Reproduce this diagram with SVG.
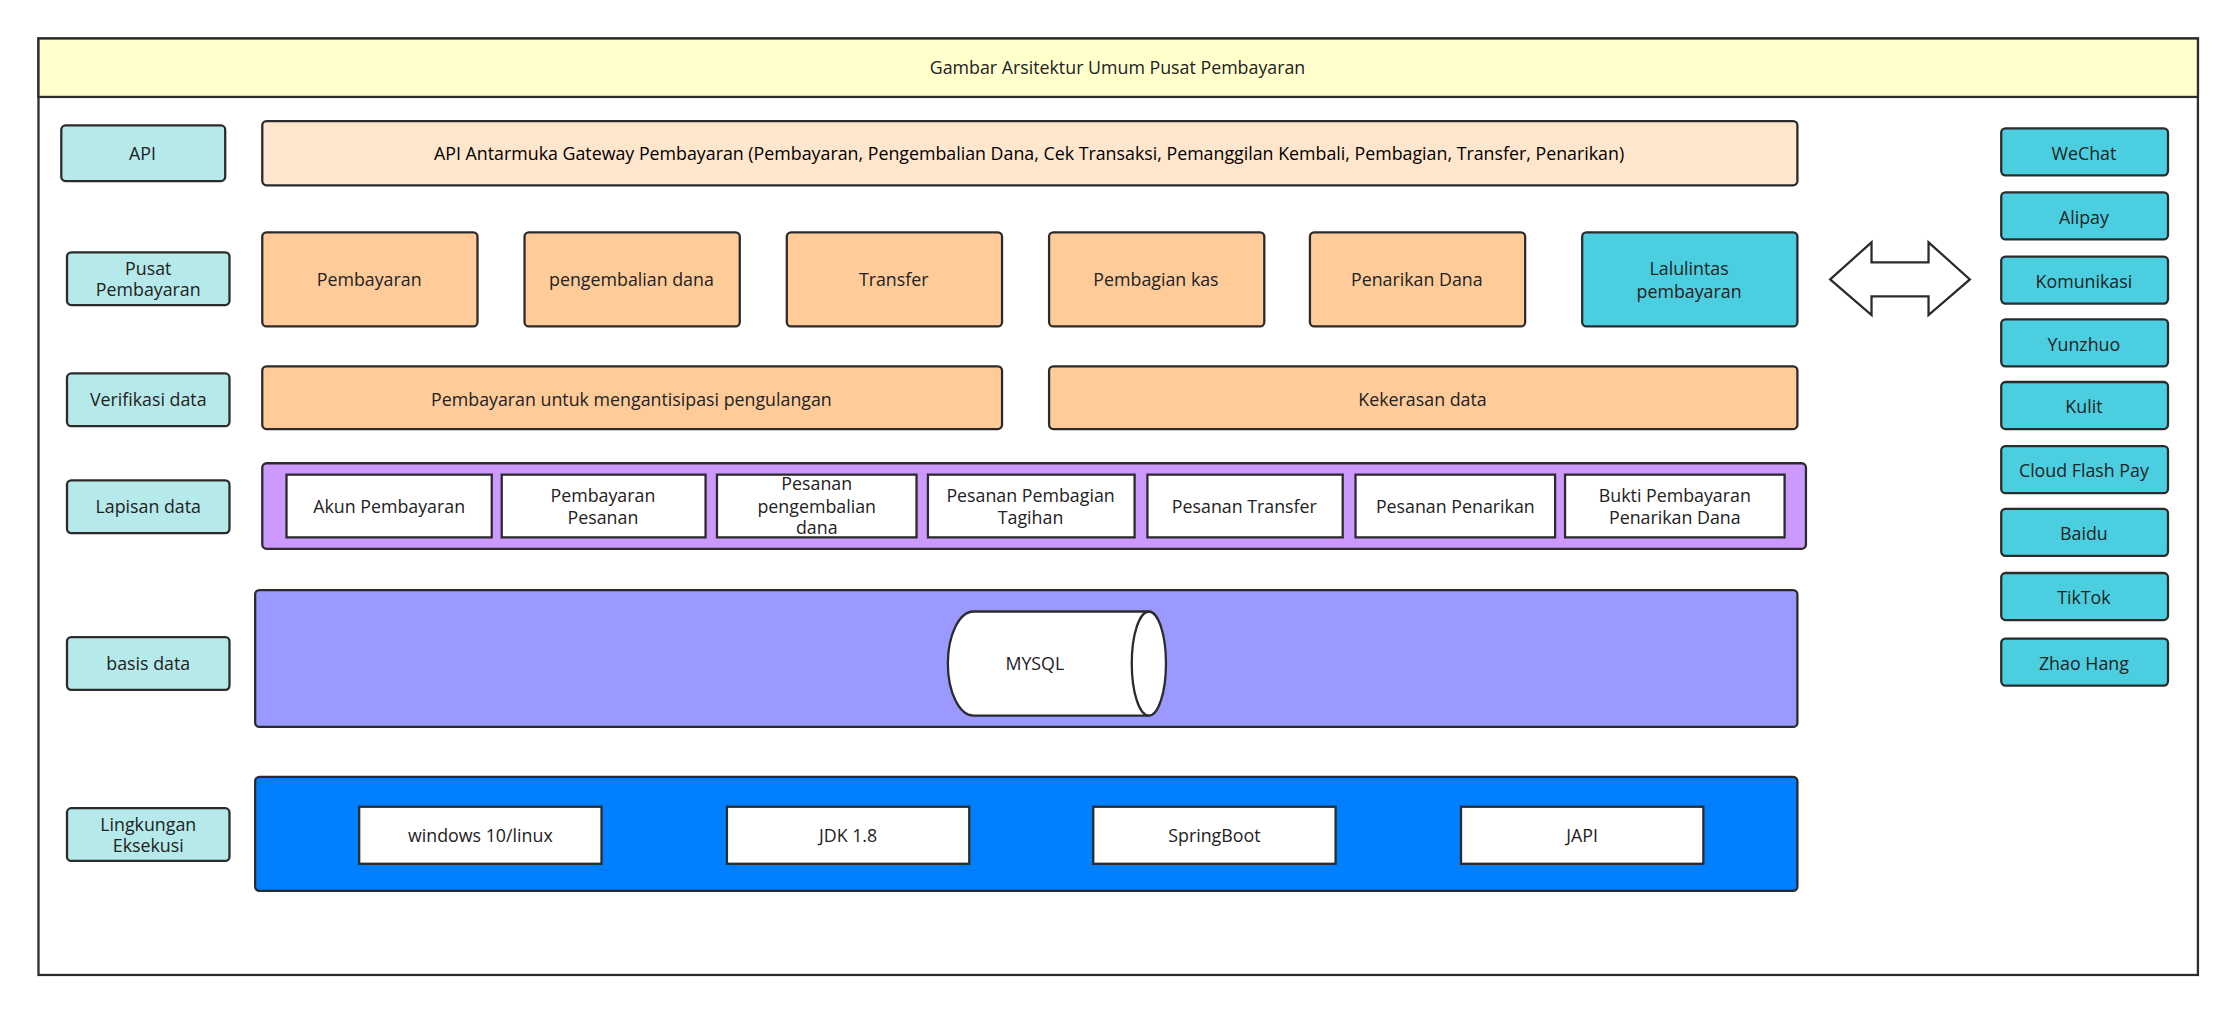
<svg xmlns="http://www.w3.org/2000/svg" width="2235" height="1012" viewBox="0 0 2235 1012">
<style>
rect,path{stroke:#2b2b2b;stroke-width:1.6}
text{font-family:"Open Sans","Liberation Sans",sans-serif;font-size:12.5px;fill:#222;text-anchor:middle;dominant-baseline:central}
.lab{fill:#b6eaea}
.or{fill:#ffcc99}
.cy{fill:#4bcfe0}
.wh{fill:#fff}
</style>
<rect width="2235" height="1012" fill="#fff" style="stroke:none"/>
<g transform="scale(1.42538)">
<g id="frame"><rect x="27" y="27" width="1515" height="657" fill="#fff"/><rect x="27" y="27" width="1515" height="41" fill="#ffffcc"/><text x="784" y="47">Gambar Arsitektur Umum Pusat Pembayaran</text></g>
<g id="labels">
<g id="l1"><rect class="lab" x="43" y="88" width="115" height="39" rx="3"/><text x="100" y="107">API</text></g>
<g id="l2"><rect class="lab" x="47" y="177" width="114" height="37" rx="3"/><text x="104" y="188">Pusat</text><text x="104" y="203">Pembayaran</text></g>
<g id="l3"><rect class="lab" x="47" y="262" width="114" height="37" rx="3"/><text x="104" y="280">Verifikasi data</text></g>
<g id="l4"><rect class="lab" x="47" y="337" width="114" height="37" rx="3"/><text x="104" y="355">Lapisan data</text></g>
<g id="l5"><rect class="lab" x="47" y="447" width="114" height="37" rx="3"/><text x="104" y="465">basis data</text></g>
<g id="l6"><rect class="lab" x="47" y="567" width="114" height="37" rx="3"/><text x="104" y="578">Lingkungan</text><text x="104" y="593">Eksekusi</text></g>
</g>
<g id="api"><rect x="184" y="85" width="1077" height="45" rx="3" fill="#ffe6cc"/><text x="722" y="107" style="fill:#000">API Antarmuka Gateway Pembayaran (Pembayaran, Pengembalian Dana, Cek Transaksi, Pemanggilan Kembali, Pembagian, Transfer, Penarikan)</text></g>
<g id="pusat">
<g id="p1"><rect class="or" x="184" y="163" width="151" height="66" rx="3"/><text x="259" y="196">Pembayaran</text></g>
<g id="p2"><rect class="or" x="368" y="163" width="151" height="66" rx="3"/><text x="443" y="196">pengembalian dana</text></g>
<g id="p3"><rect class="or" x="552" y="163" width="151" height="66" rx="3"/><text x="627" y="196">Transfer</text></g>
<g id="p4"><rect class="or" x="736" y="163" width="151" height="66" rx="3"/><text x="811" y="196">Pembagian kas</text></g>
<g id="p5"><rect class="or" x="919" y="163" width="151" height="66" rx="3"/><text x="994" y="196">Penarikan Dana</text></g>
<g id="p6"><rect class="cy" x="1110" y="163" width="151" height="66" rx="3"/><text x="1185" y="188">Lalulintas</text><text x="1185" y="204">pembayaran</text></g>
</g>
<g id="verif">
<g id="v1"><rect class="or" x="184" y="257" width="519" height="44" rx="3"/><text x="443" y="280">Pembayaran untuk mengantisipasi pengulangan</text></g>
<g id="v2"><rect class="or" x="736" y="257" width="525" height="44" rx="3"/><text x="998" y="280">Kekerasan data</text></g>
</g>
<g id="lapisan"><rect x="184" y="325" width="1083" height="60" rx="3" fill="#cc99ff"/>
<g id="d1"><rect class="wh" x="201" y="333" width="144" height="44"/><text x="273" y="355">Akun Pembayaran</text></g>
<g id="d2"><rect class="wh" x="352" y="333" width="143" height="44"/><text x="423" y="347">Pembayaran</text><text x="423" y="363">Pesanan</text></g>
<g id="d3"><rect class="wh" x="503" y="333" width="140" height="44"/><text x="573" y="339">Pesanan</text><text x="573" y="355">pengembalian</text><text x="573" y="370">dana</text></g>
<g id="d4"><rect class="wh" x="651" y="333" width="145" height="44"/><text x="723" y="347">Pesanan Pembagian</text><text x="723" y="363">Tagihan</text></g>
<g id="d5"><rect class="wh" x="805" y="333" width="137" height="44"/><text x="873" y="355">Pesanan Transfer</text></g>
<g id="d6"><rect class="wh" x="951" y="333" width="140" height="44"/><text x="1021" y="355">Pesanan Penarikan</text></g>
<g id="d7"><rect class="wh" x="1098" y="333" width="154" height="44"/><text x="1175" y="347">Bukti Pembayaran</text><text x="1175" y="363">Penarikan Dana</text></g>
</g>
<g id="basis"><rect x="179" y="414" width="1082" height="96" rx="3" fill="#9999ff"/>
<path d="M683 429H806A12 36.5 0 0 1 806 502H683A18 36.5 0 0 1 683 429Z" fill="#fff"/>
<path d="M806 429A12 36.5 0 0 0 806 502" fill="none"/>
<text x="726" y="465">MYSQL</text></g>
<g id="runtime"><rect x="179" y="545" width="1082" height="80" rx="3" fill="#0080ff"/>
<g id="r1"><rect class="wh" x="252" y="566" width="170" height="40"/><text x="337" y="586">windows 10/linux</text></g>
<g id="r2"><rect class="wh" x="510" y="566" width="170" height="40"/><text x="595" y="586">JDK 1.8</text></g>
<g id="r3"><rect class="wh" x="767" y="566" width="170" height="40"/><text x="852" y="586">SpringBoot</text></g>
<g id="r4"><rect class="wh" x="1025" y="566" width="170" height="40"/><text x="1110" y="586">JAPI</text></g>
</g>
<g id="connectors"><path d="M1284 196L1313 170V184H1353V170L1382 196L1353 221V208H1313V221Z" fill="#fff"/></g>
<g id="channels">
<g id="c1"><rect class="cy" x="1404" y="90" width="117" height="33" rx="3"/><text x="1462" y="107">WeChat</text></g>
<g id="c2"><rect class="cy" x="1404" y="135" width="117" height="33" rx="3"/><text x="1462" y="152">Alipay</text></g>
<g id="c3"><rect class="cy" x="1404" y="180" width="117" height="33" rx="3"/><text x="1462" y="197">Komunikasi</text></g>
<g id="c4"><rect class="cy" x="1404" y="224" width="117" height="33" rx="3"/><text x="1462" y="241">Yunzhuo</text></g>
<g id="c5"><rect class="cy" x="1404" y="268" width="117" height="33" rx="3"/><text x="1462" y="285">Kulit</text></g>
<g id="c6"><rect class="cy" x="1404" y="313" width="117" height="33" rx="3"/><text x="1462" y="330">Cloud Flash Pay</text></g>
<g id="c7"><rect class="cy" x="1404" y="357" width="117" height="33" rx="3"/><text x="1462" y="374">Baidu</text></g>
<g id="c8"><rect class="cy" x="1404" y="402" width="117" height="33" rx="3"/><text x="1462" y="419">TikTok</text></g>
<g id="c9"><rect class="cy" x="1404" y="448" width="117" height="33" rx="3"/><text x="1462" y="465">Zhao Hang</text></g>
</g>
</g>
</svg>
